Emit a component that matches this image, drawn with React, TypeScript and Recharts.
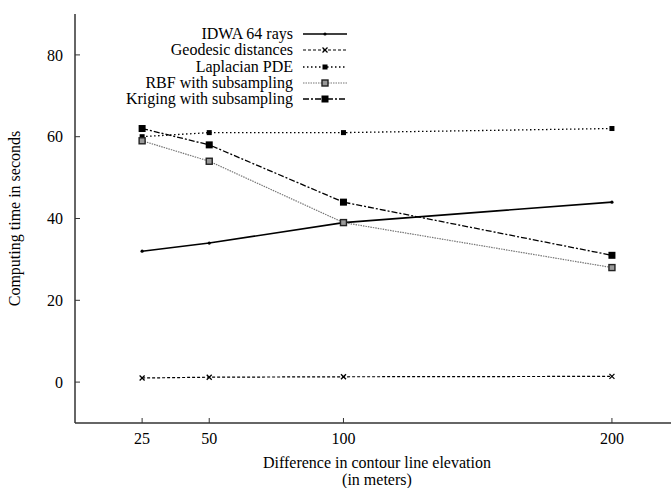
import { LineChart, Line, XAxis, YAxis } from "recharts";

// Difference in contour line elevation (m)
const elevations = [25, 50, 100, 200];
const idwa = [32, 34, 39, 44];
const geodesic = [1, 1.2, 1.3, 1.4];
const laplacian = [60, 61, 61, 62];
const rbf = [59, 54, 39, 28];
const kriging = [62, 58, 44, 31];

const xTicks = [25, 50, 100, 200];
const yTicks = [0, 20, 40, 60, 80];

const data = elevations.map((e, i) => ({
  elev: e,
  idwa: idwa[i],
  geodesic: geodesic[i],
  laplacian: laplacian[i],
  rbf: rbf[i],
  kriging: kriging[i],
}));

const FONT = "'Liberation Serif', 'Times New Roman', 'DejaVu Serif', serif";
const FS = 16;

type Kind = "plus" | "cross" | "smallSquare" | "openSquare" | "square";

const Marker = ({ cx, cy, kind }: { cx: number; cy: number; kind: Kind }) => {
  if (kind === "plus") {
    return <circle cx={cx} cy={cy} r={1.6} fill="#000" />;
  }
  if (kind === "cross") {
    return (
      <g stroke="#000" strokeWidth={1.3}>
        <line x1={cx - 2.5} y1={cy - 2.5} x2={cx + 2.5} y2={cy + 2.5} />
        <line x1={cx - 2.5} y1={cy + 2.5} x2={cx + 2.5} y2={cy - 2.5} />
      </g>
    );
  }
  if (kind === "smallSquare") {
    return <rect x={cx - 2.5} y={cy - 2.5} width={5} height={5} fill="#000" />;
  }
  if (kind === "openSquare") {
    return <rect x={cx - 3} y={cy - 3} width={6} height={6} fill="#999" stroke="#222" strokeWidth={1.4} />;
  }
  return <rect x={cx - 3.5} y={cy - 3.5} width={7} height={7} fill="#000" />;
};

const series = [
  { key: "idwa", name: "IDWA 64 rays", stroke: "#000", width: 1.6, dash: undefined, kind: "plus" as Kind },
  { key: "geodesic", name: "Geodesic distances", stroke: "#000", width: 1.2, dash: "3 2", kind: "cross" as Kind },
  { key: "laplacian", name: "Laplacian PDE", stroke: "#000", width: 1.3, dash: "1.5 2.5", kind: "smallSquare" as Kind },
  { key: "rbf", name: "RBF with subsampling", stroke: "#777", width: 1.2, dash: "1.5 1", kind: "openSquare" as Kind },
  { key: "kriging", name: "Kriging with subsampling", stroke: "#000", width: 1.3, dash: "6 2 2 2", kind: "square" as Kind },
];

const LegendBox = () => (
  <div style={{ fontFamily: FONT, fontSize: FS, color: "#000" }}>
    {series.map((s) => (
      <div key={s.key} style={{ display: "flex", alignItems: "center", height: 16.3 }}>
        <span style={{ width: 293, textAlign: "right", lineHeight: "16px", whiteSpace: "nowrap" }}>{s.name}</span>
        <svg width={60} height={16} style={{ marginLeft: 10 }}>
          <line x1={0} y1={8} x2={44} y2={8} stroke={s.stroke} strokeWidth={s.width} strokeDasharray={s.dash} />
          <Marker cx={22} cy={8} kind={s.kind} />
        </svg>
      </div>
    ))}
  </div>
);

const XLabel = (props: any) => {
  const { viewBox } = props;
  const cx = viewBox.x + (225 * 2.684) / 2;
  return (
    <text x={cx} y={viewBox.y + 45} textAnchor="middle" fontFamily={FONT} fontSize={FS} fill="#000">
      <tspan x={cx} dy={0}>Difference in contour line elevation</tspan>
      <tspan x={cx} dy={17}>(in meters)</tspan>
    </text>
  );
};

export default function App() {
  return (
    <div style={{ position: "absolute", left: 0, top: 0, width: 671, height: 488, background: "#fff" }}>
      <LineChart width={671} height={488} data={data} margin={{ top: 14, right: 0, bottom: 0, left: 0 }}>
        <XAxis
          dataKey="elev"
          type="number"
          domain={[0, 222]}
          ticks={xTicks}
          allowDataOverflow
          tickSize={-5}
          tickMargin={15}
          height={65}
          axisLine={{ stroke: "#333", strokeWidth: 1.5 }}
          tickLine={{ stroke: "#333" }}
          tick={{ fill: "#000", fontSize: FS, fontFamily: FONT }}
          label={<XLabel />}
        />
        <XAxis
          xAxisId="top"
          dataKey="elev"
          type="number"
          orientation="top"
          domain={[0, 222]}
          ticks={xTicks}
          allowDataOverflow
          height={0}
          tickSize={-5}
          tick={false}
          axisLine={{ stroke: "#333", strokeWidth: 1.5 }}
          tickLine={{ stroke: "#333" }}
        />
        <YAxis
          type="number"
          domain={[-10, 90]}
          ticks={yTicks}
          allowDataOverflow
          width={75}
          tickSize={-5}
          tickMargin={17}
          axisLine={{ stroke: "#333", strokeWidth: 1.5 }}
          tickLine={{ stroke: "#333" }}
          tick={{ fill: "#000", fontSize: FS, fontFamily: FONT }}
          label={{
            value: "Computing time in seconds",
            angle: -90,
            position: "insideLeft",
            offset: 14,
            style: { textAnchor: "middle", fontFamily: FONT, fontSize: FS, fill: "#000" },
          }}
        />
        {series.map((s) => (
          <Line
            key={s.key}
            type="linear"
            dataKey={s.key}
            name={s.name}
            stroke={s.stroke}
            strokeWidth={s.width}
            strokeDasharray={s.dash}
            isAnimationActive={false}
            dot={(p: any) => <Marker key={`${s.key}-${p.index}`} cx={p.cx} cy={p.cy} kind={s.kind} />}
            activeDot={false}
          />
        ))}
      </LineChart>
      <div style={{ position: "absolute", left: 0, top: 26 }}>
        <LegendBox />
      </div>
    </div>
  );
}
